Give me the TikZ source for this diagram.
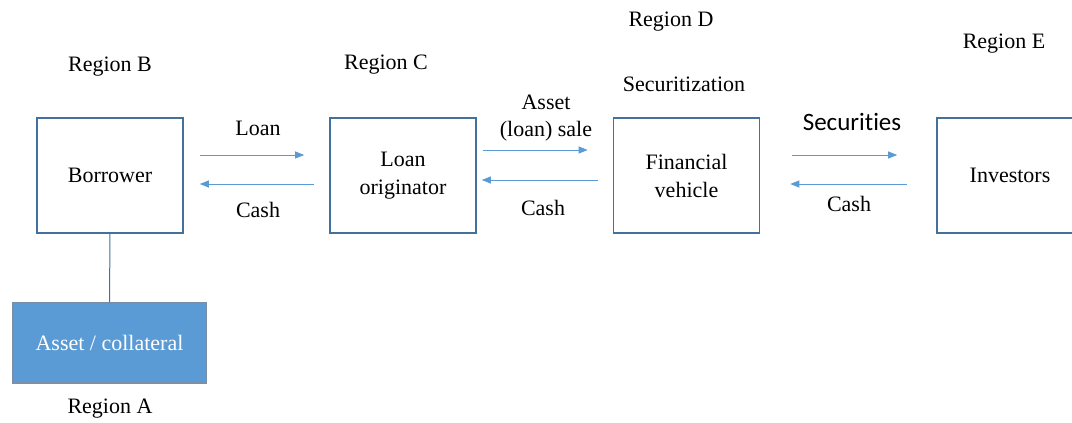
\documentclass[tikz,border=0pt]{standalone}
\usepackage{fontspec}
\setmainfont{Liberation Serif}
\newfontfamily\calfont[Ligatures=NoCommon]{Carlito}
\usepackage{tikz}
\usetikzlibrary{arrows.meta,positioning,calc}
\definecolor{boxLine}{HTML}{41719C}
\definecolor{flowBlue}{HTML}{5B9BD5}
\definecolor{assetLine}{HTML}{7A8FA8}
\tikzset{
  party/.style={rectangle, draw=boxLine, line width=1.6pt, align=center, minimum width=146pt, minimum height=115pt, font=\rmfamily\fontsize{22}{28}\selectfont},
  assetbox/.style={rectangle, draw=assetLine, line width=1.2pt, fill=flowBlue, text=white, minimum width=193pt, minimum height=80pt, font=\rmfamily\fontsize{22}{26}\selectfont},
  lbl/.style={align=center, font=\rmfamily\fontsize{22}{27}\selectfont},
  flow/.style={-{Triangle[length=9pt,width=7pt]}, line width=0.9pt, draw=flowBlue}
}

\begin{document}
\begin{tikzpicture}[x=1pt, y=-1pt]
  \useasboundingbox (0,0) rectangle (1072,423);
  % parties
  \node[party] (bor) at (110,175.5) {Borrower};
  \node[party] (orig) at (403,175.5) {Loan\\originator};
  \node[party] (fv) at (686.5,175.5) {Financial\\vehicle};
  \node[party] (inv) at (1010,175.5) {Investors};
  \node[assetbox] (asset) at (109.5,343) {Asset / collateral};
  \draw[draw=boxLine, line width=1pt] (bor.south) -- (asset.north);
  % regions
  \node[lbl] (regA) at (110,409) {Region A};
  \node[lbl] (regB) at (110,67) {Region B};
  \node[lbl] (regC) at (386,65) {Region C};
  \node[lbl] (regD) at (671,22) {Region D};
  \node[lbl] (regE) at (1004,44) {Region E};
  \node[lbl] (secz) at (684,84) {Securitization};
  % flows
  \draw[flow, shorten <=16pt, shorten >=25pt] ([yshift=20.5pt]bor.east) -- ([yshift=20.5pt]orig.west);
  \draw[flow, shorten <=15pt, shorten >=16pt] ([yshift=-8.5pt]orig.west) -- ([yshift=-8.5pt]bor.east);
  \draw[flow, shorten <=6pt, shorten >=25pt] ([yshift=25.5pt]orig.east) -- ([yshift=25.5pt]fv.west);
  \draw[flow, shorten <=15pt, shorten >=5pt] ([yshift=-4.5pt]fv.west) -- ([yshift=-4.5pt]orig.east);
  \draw[flow, shorten <=32pt, shorten >=39pt] ([yshift=20.5pt]fv.east) -- ([yshift=20.5pt]inv.west);
  \draw[flow, shorten <=29pt, shorten >=30pt] ([yshift=-8.5pt]inv.west) -- ([yshift=-8.5pt]fv.east);
  % flow labels
  \node[lbl] (loan) at (258,128) {Loan};
  \node[lbl] (cashA) at (258,210) {Cash};
  \node[lbl] (sale) at (546,118) {Asset\\(loan) sale};
  \node[lbl] (cashB) at (543,208) {Cash};
  \node[lbl, font=\calfont\fontsize{25}{30}\selectfont] (secs) at (852,122) {Securities};
  \node[lbl] (cashC) at (849,204) {Cash};
\end{tikzpicture}
\end{document}
